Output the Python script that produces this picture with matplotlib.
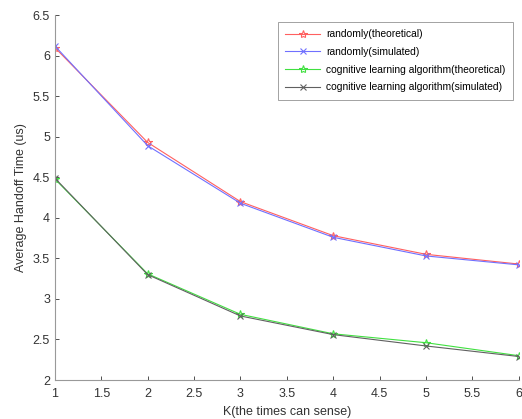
import matplotlib
matplotlib.use("Agg")
import matplotlib.pyplot as plt

K = [1, 2, 3, 4, 5, 6]
rand_theo = [6.10, 4.93, 4.20, 3.78, 3.55, 3.43]
rand_sim = [6.12, 4.89, 4.18, 3.76, 3.53, 3.42]
cog_theo = [4.48, 3.31, 2.81, 2.57, 2.46, 2.30]
cog_sim = [4.49, 3.30, 2.79, 2.56, 2.42, 2.29]
labels = ["randomly(theoretical)", "randomly(simulated)",
          "cognitive learning algorithm(theoretical)", "cognitive learning algorithm(simulated)"]

plt.rcParams['font.family'] = ['Liberation Sans', 'DejaVu Sans']
fig = plt.figure(figsize=(5.22, 4.19), dpi=100)
ax = fig.add_axes([0.105, 0.093, 0.889, 0.871])

ax.plot(K, rand_theo, color='#ff6060', lw=0.8, marker='*', ms=6, mfc='none', mew=0.8, label=labels[0])
ax.plot(K, rand_sim, color='#7070ff', lw=0.8, marker='x', ms=4, mew=0.8, label=labels[1])
ax.plot(K, cog_theo, color='#40e040', lw=0.8, marker='*', ms=6, mfc='none', mew=0.8, label=labels[2])
ax.plot(K, cog_sim, color='#606060', lw=0.8, marker='x', ms=4, mew=0.8, label=labels[3])

ax.set_xlim(1, 6)
ax.set_ylim(2, 6.5)
ax.set_xticks([1, 1.5, 2, 2.5, 3, 3.5, 4, 4.5, 5, 5.5, 6])
ax.set_xticklabels(['1', '1.5', '2', '2.5', '3', '3.5', '4', '4.5', '5', '5.5', '6'])
ax.set_yticks([2, 2.5, 3, 3.5, 4, 4.5, 5, 5.5, 6, 6.5])
ax.set_yticklabels(['2', '2.5', '3', '3.5', '4', '4.5', '5', '5.5', '6', '6.5'])
ax.tick_params(direction='in', length=3, labelsize=9, colors='#333333', width=0.6)
ax.tick_params(axis='x', pad=6)
for s in ['top', 'right']:
    ax.spines[s].set_visible(False)
for s in ['left', 'bottom']:
    ax.spines[s].set_color('#999999')
ax.set_xlabel('K(the times can sense)', fontsize=9, labelpad=4, color='#333333')
ax.set_ylabel('Average Handoff Time (us)', fontsize=9, labelpad=4, color='#333333')

leg = ax.legend(loc='upper right', bbox_to_anchor=(0.987, 0.981), borderaxespad=0,
                fontsize=7.4, frameon=True,
                fancybox=False, edgecolor='#777777', handlelength=3.4, borderpad=0.7,
                labelspacing=0.75, handletextpad=0.6)
leg.get_frame().set_linewidth(0.6)

fig.savefig('out.png', dpi=100)
